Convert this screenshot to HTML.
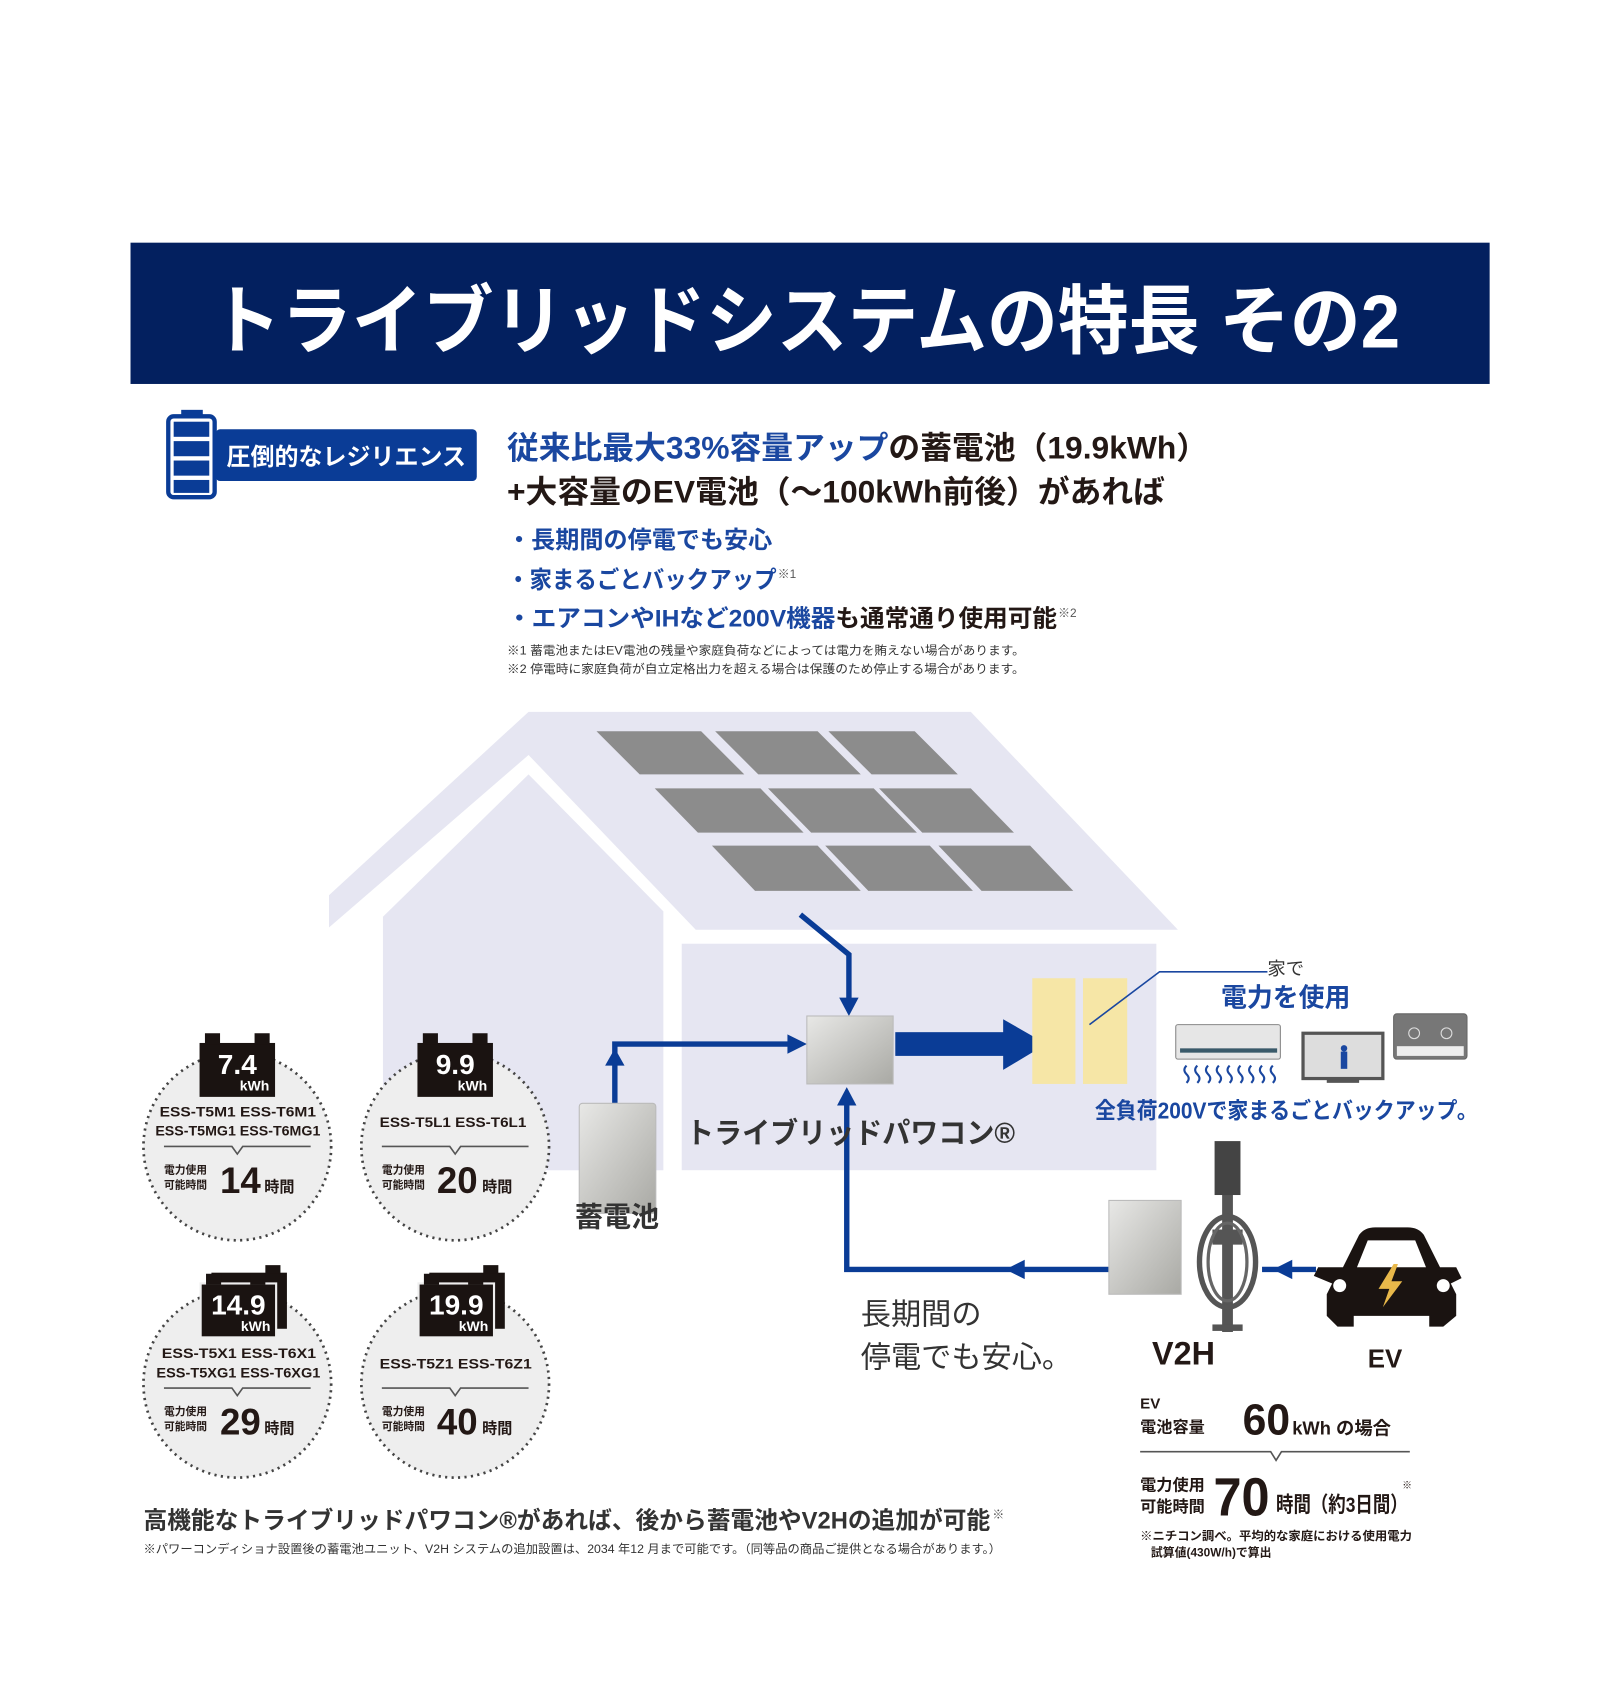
<!DOCTYPE html>
<html><head><meta charset="utf-8"><style>
html,body{margin:0;padding:0;background:#fff;}
svg{display:block;}
text{font-family:"Liberation Sans","Noto Sans CJK JP",sans-serif;}
</style></head><body>
<svg width="1618" height="1689" viewBox="0 0 1500 1566" preserveAspectRatio="none" xmlns="http://www.w3.org/2000/svg">
<defs>
<linearGradient id="sil" x1="0" y1="0" x2="1" y2="1"><stop offset="0" stop-color="#e8e8e6"/><stop offset="1" stop-color="#a9a9a4"/></linearGradient>
</defs>
<rect width="1500" height="1566" fill="#fff"/>
<rect x="121" y="225" width="1260" height="131" fill="#03205f"/>
<text x="195" y="322" font-size="70" font-weight="bold" fill="#fff" textLength="1103" lengthAdjust="spacingAndGlyphs">トライブリッドシステムの特長 その2</text>
<rect x="200" y="398" width="242" height="48" rx="4" fill="#0a3c96"/>
<rect x="156" y="386" width="43" height="75" rx="5" fill="#fff" stroke="#0a3c96" stroke-width="4"/>
<rect x="168" y="380" width="20" height="6" fill="#0a3c96"/>
<rect x="161" y="391" width="33" height="14" fill="#0a3c96"/>
<rect x="161" y="409" width="33" height="14" fill="#0a3c96"/>
<rect x="161" y="427" width="33" height="14" fill="#0a3c96"/>
<rect x="161" y="445" width="33" height="12" fill="#0a3c96"/>
<text x="210" y="431" font-size="22" font-weight="bold" fill="#fff" textLength="222" lengthAdjust="spacingAndGlyphs">圧倒的なレジリエンス</text>
<text x="470" y="425" font-size="29" font-weight="bold" textLength="650" lengthAdjust="spacingAndGlyphs"><tspan fill="#1a47a0">従来比最大33%容量アップ</tspan><tspan fill="#231815">の蓄電池（19.9kWh）</tspan></text>
<text x="470" y="466" font-size="29" font-weight="bold" fill="#231815" textLength="610" lengthAdjust="spacingAndGlyphs">+大容量のEV電池（〜100kWh前後）があれば</text>
<text x="470" y="508" font-size="22" font-weight="bold" fill="#1a47a0" textLength="246" lengthAdjust="spacingAndGlyphs">・長期間の停電でも安心</text>
<text x="470" y="545" font-size="22" font-weight="bold" fill="#1a47a0" textLength="250" lengthAdjust="spacingAndGlyphs">・家まるごとバックアップ</text>
<text x="721" y="536" font-size="11" fill="#555">※1</text>
<text x="470" y="581" font-size="22" font-weight="bold" textLength="510" lengthAdjust="spacingAndGlyphs"><tspan fill="#1a47a0">・エアコンやIHなど200V機器</tspan><tspan fill="#231815">も通常通り使用可能</tspan></text>
<text x="981" y="572" font-size="11" fill="#555">※2</text>
<text x="470" y="607" font-size="11" fill="#333" textLength="480" lengthAdjust="spacingAndGlyphs">※1 蓄電池またはEV電池の残量や家庭負荷などによっては電力を賄えない場合があります。</text>
<text x="470" y="624" font-size="11" fill="#333" textLength="480" lengthAdjust="spacingAndGlyphs">※2 停電時に家庭負荷が自立定格出力を超える場合は保護のため停止する場合があります。</text>
<polygon points="305,830 490,660 900,660 1092,862 645,862 490,700 305,860" fill="#e6e6f2"/>
<polygon points="355,850 490,718 615,845 615,1085 355,1085" fill="#e6e6f2"/>
<rect x="632" y="875" width="440" height="210" fill="#e6e6f2"/>
<g fill="#8c8c8c">
<polygon points="553,678 650,678 690,718 593,718"/>
<polygon points="663,678 758,678 798,718 703,718"/>
<polygon points="768,678 848,678 888,718 808,718"/>
<polygon points="607,731 705,731 745,772 647,772"/>
<polygon points="712,731 810,731 850,772 752,772"/>
<polygon points="815,731 900,731 940,772 855,772"/>
<polygon points="660,784 758,784 798,826 700,826"/>
<polygon points="765,784 862,784 902,826 805,826"/>
<polygon points="870,784 955,784 995,826 910,826"/>
</g>
<g fill="none" stroke="#0a3c96" stroke-width="5">
<polyline points="742,848 787,885 787,928"/>
<polyline points="570,1023 570,968 735,968"/>
<polyline points="1030,1177 785,1177 785,1022"/>
<line x1="1220" y1="1177" x2="1170" y2="1177"/>
</g>
<g fill="#0a3c96">
<polygon points="778,925 796,925 787,942"/>
<polygon points="561,988 579,988 570,972"/>
<polygon points="730,959 730,977 748,968"/>
<polygon points="776,1025 794,1025 785,1008"/>
<polygon points="950,1168 950,1186 932,1177"/>
<polygon points="1198,1168 1198,1186 1180,1177"/>
<rect x="830" y="957" width="102" height="22"/>
<polygon points="930,945 930,992 970,968"/>
</g>
<rect x="748" y="942" width="80" height="63" fill="url(#sil)" stroke="#bbb"/>
<rect x="957" y="907" width="40" height="98" fill="#f6e6a6"/>
<rect x="1004" y="907" width="41" height="98" fill="#f6e6a6"/>
<rect x="537" y="1023" width="71" height="102" rx="3" fill="url(#sil)" stroke="#bbb"/>
<text x="533" y="1137" font-size="26" font-weight="bold" fill="#333">蓄電池</text>
<text x="636" y="1060" font-size="27" font-weight="bold" fill="#333" textLength="305" lengthAdjust="spacingAndGlyphs">トライブリッドパワコン®</text>
<rect x="1028" y="1113" width="67" height="87" fill="url(#sil)" stroke="#bbb"/>
<rect x="1133" y="1100" width="10" height="135" fill="#555"/>
<rect x="1124" y="1140" width="28" height="14" fill="#555"/>
<rect x="1126" y="1058" width="24" height="50" fill="#444"/>
<ellipse cx="1138" cy="1170" rx="26" ry="42" fill="none" stroke="#555" stroke-width="5"/>
<ellipse cx="1138" cy="1170" rx="18" ry="36" fill="none" stroke="#666" stroke-width="3"/>
<rect x="1124" y="1228" width="28" height="6" fill="#555"/>
<g fill="#1a1311">
<path d="M1245,1175 L1260,1145 Q1265,1138 1275,1138 L1305,1138 Q1315,1138 1320,1145 L1335,1175 L1350,1175 L1355,1185 L1345,1190 L1350,1200 L1350,1220 L1338,1230 L1325,1230 L1325,1220 L1255,1220 L1255,1230 L1240,1230 L1230,1220 L1230,1200 L1235,1190 L1218,1183 L1222,1175Z"/>
</g>
<path d="M1258,1175 L1268,1150 L1312,1150 L1322,1175Z" fill="#fff"/>
<circle cx="1242" cy="1192" r="6" fill="#fff"/><circle cx="1338" cy="1192" r="6" fill="#fff"/>
<polygon points="1292,1172 1278,1195 1288,1195 1282,1212 1300,1188 1290,1188 1296,1172" fill="#e8b84a"/>
<text x="1068" y="1265" font-size="30" font-weight="bold" fill="#231815">V2H</text>
<text x="1268" y="1268" font-size="24" font-weight="bold" fill="#231815">EV</text>
<text x="798" y="1228" font-size="28" fill="#333">長期間の</text>
<text x="798" y="1268" font-size="28" fill="#333">停電でも安心。</text>
<polyline points="1010,950 1075,901 1175,901" fill="none" stroke="#1a47a0" stroke-width="1.5"/>
<text x="1175" y="904" font-size="17" fill="#333">家で</text>
<text x="1132" y="933" font-size="24" font-weight="bold" fill="#1a47a0">電力を使用</text>
<rect x="1090" y="950" width="97" height="32" rx="2" fill="#e6e6e6" stroke="#888"/>
<rect x="1094" y="972" width="90" height="4" fill="#3a5a6a"/>
<path d="M1100,988 q-4,4 0,8 q4,4 0,8 M1110,988 q-4,4 0,8 q4,4 0,8 M1120,988 q-4,4 0,8 q4,4 0,8 M1130,988 q-4,4 0,8 q4,4 0,8 M1140,988 q-4,4 0,8 q4,4 0,8 M1150,988 q-4,4 0,8 q4,4 0,8 M1160,988 q-4,4 0,8 q4,4 0,8 M1170,988 q-4,4 0,8 q4,4 0,8 M1180,988 q-4,4 0,8 q4,4 0,8" fill="none" stroke="#1a47a0" stroke-width="2"/>
<rect x="1208" y="958" width="74" height="42" fill="#ddd" stroke="#555" stroke-width="3"/>
<rect x="1230" y="1001" width="30" height="3" fill="#555"/>
<circle cx="1246" cy="972" r="3" fill="#1a47a0"/><rect x="1243" y="975" width="6" height="16" fill="#1a47a0"/>
<rect x="1292" y="940" width="68" height="42" rx="3" fill="#777" stroke="#666"/>
<rect x="1295" y="970" width="62" height="9" fill="#eee"/>
<circle cx="1311" cy="958" r="5" fill="none" stroke="#ddd"/><circle cx="1341" cy="958" r="5" fill="none" stroke="#ddd"/>
<text x="1015" y="1037" font-size="21" font-weight="bold" fill="#1a47a0" textLength="355" lengthAdjust="spacingAndGlyphs">全負荷200Vで家まるごとバックアップ。</text>
<g fill="#eeeeee" stroke="#444" stroke-width="2.5" stroke-dasharray="2,4">
<circle cx="220" cy="1063" r="87"/><circle cx="422" cy="1063" r="87"/>
<circle cx="220" cy="1283" r="87"/><circle cx="422" cy="1283" r="87"/>
</g>
<g fill="#1a1311">
<rect x="185" y="967" width="70" height="50"/><rect x="190" y="958" width="14" height="10"/><rect x="236" y="958" width="14" height="10"/>
<rect x="387" y="967" width="70" height="50"/><rect x="392" y="958" width="14" height="10"/><rect x="438" y="958" width="14" height="10"/>
<rect x="196" y="1180" width="70" height="52"/><rect x="246" y="1173" width="14" height="8"/>
<rect x="186" y="1190" width="70" height="50" stroke="#eee" stroke-width="2"/><rect x="191" y="1181" width="14" height="10"/><rect x="232" y="1181" width="14" height="10"/>
<rect x="398" y="1180" width="70" height="52"/><rect x="448" y="1173" width="14" height="8"/>
<rect x="388" y="1190" width="70" height="50" stroke="#eee" stroke-width="2"/><rect x="393" y="1181" width="14" height="10"/><rect x="434" y="1181" width="14" height="10"/>
</g>
<g fill="#fff" font-weight="bold">
<text x="220" y="996" font-size="26" text-anchor="middle">7.4</text><text x="236" y="1011" font-size="13" text-anchor="middle">kWh</text>
<text x="422" y="996" font-size="26" text-anchor="middle">9.9</text><text x="438" y="1011" font-size="13" text-anchor="middle">kWh</text>
<text x="221" y="1219" font-size="26" text-anchor="middle">14.9</text><text x="237" y="1234" font-size="13" text-anchor="middle">kWh</text>
<text x="423" y="1219" font-size="26" text-anchor="middle">19.9</text><text x="439" y="1234" font-size="13" text-anchor="middle">kWh</text>
</g>
<g fill="#231815" font-weight="bold" font-size="13">
<text x="148" y="1035" textLength="145" lengthAdjust="spacingAndGlyphs">ESS-T5M1  ESS-T6M1</text>
<text x="144" y="1053" textLength="153" lengthAdjust="spacingAndGlyphs">ESS-T5MG1 ESS-T6MG1</text>
<text x="352" y="1045" textLength="136" lengthAdjust="spacingAndGlyphs">ESS-T5L1  ESS-T6L1</text>
<text x="150" y="1259" textLength="143" lengthAdjust="spacingAndGlyphs">ESS-T5X1  ESS-T6X1</text>
<text x="145" y="1277" textLength="152" lengthAdjust="spacingAndGlyphs">ESS-T5XG1 ESS-T6XG1</text>
<text x="352" y="1269" textLength="141" lengthAdjust="spacingAndGlyphs">ESS-T5Z1  ESS-T6Z1</text>
</g>
<g fill="none" stroke="#555" stroke-width="1.5">
<polyline points="152,1063 215,1063 220,1070 225,1063 288,1063"/>
<polyline points="354,1063 417,1063 422,1070 427,1063 490,1063"/>
<polyline points="152,1287 215,1287 220,1294 225,1287 288,1287"/>
<polyline points="354,1287 417,1287 422,1294 427,1287 490,1287"/>
</g>
<g fill="#231815" font-weight="bold">
<g font-size="10"><text x="152" y="1088">電力使用</text><text x="152" y="1102">可能時間</text>
<text x="354" y="1088">電力使用</text><text x="354" y="1102">可能時間</text>
<text x="152" y="1312">電力使用</text><text x="152" y="1326">可能時間</text>
<text x="354" y="1312">電力使用</text><text x="354" y="1326">可能時間</text></g>
<g font-size="34"><text x="204" y="1106">14</text><text x="405" y="1106">20</text><text x="204" y="1330">29</text><text x="405" y="1330">40</text></g>
<g font-size="14"><text x="245" y="1105">時間</text><text x="447" y="1105">時間</text><text x="245" y="1329">時間</text><text x="447" y="1329">時間</text></g>
</g>
<text x="133" y="1417" font-size="22" font-weight="bold" fill="#333" textLength="785" lengthAdjust="spacingAndGlyphs">高機能なトライブリッドパワコン®があれば、後から蓄電池やV2Hの追加が可能</text>
<text x="920" y="1408" font-size="11" fill="#555">※</text>
<text x="133" y="1440" font-size="11" fill="#333" textLength="795" lengthAdjust="spacingAndGlyphs">※パワーコンディショナ設置後の蓄電池ユニット、V2H システムの追加設置は、2034 年12 月まで可能です。（同等品の商品ご提供となる場合があります。）</text>
<g fill="#231815" font-weight="bold">
<text x="1057" y="1306" font-size="14">EV</text>
<text x="1057" y="1328" font-size="15">電池容量</text>
<text x="1152" y="1330" font-size="40" textLength="44" lengthAdjust="spacingAndGlyphs">60</text>
<text x="1198" y="1330" font-size="17">kWh の場合</text>
<text x="1057" y="1382" font-size="15">電力使用</text>
<text x="1057" y="1402" font-size="15">可能時間</text>
<text x="1125" y="1405" font-size="50" textLength="52" lengthAdjust="spacingAndGlyphs">70</text>
<text x="1183" y="1402" font-size="20" textLength="122" lengthAdjust="spacingAndGlyphs">時間（約3日間）</text>
<text x="1300" y="1380" font-size="9">※</text>
<text x="1057" y="1428" font-size="11" textLength="252" lengthAdjust="spacingAndGlyphs">※ニチコン調べ。平均的な家庭における使用電力</text>
<text x="1067" y="1443" font-size="11">試算値(430W/h)で算出</text>
</g>
<polyline points="1057,1346 1178,1346 1183,1354 1188,1346 1307,1346" fill="none" stroke="#555" stroke-width="1.5"/>
</svg>
</body></html>
